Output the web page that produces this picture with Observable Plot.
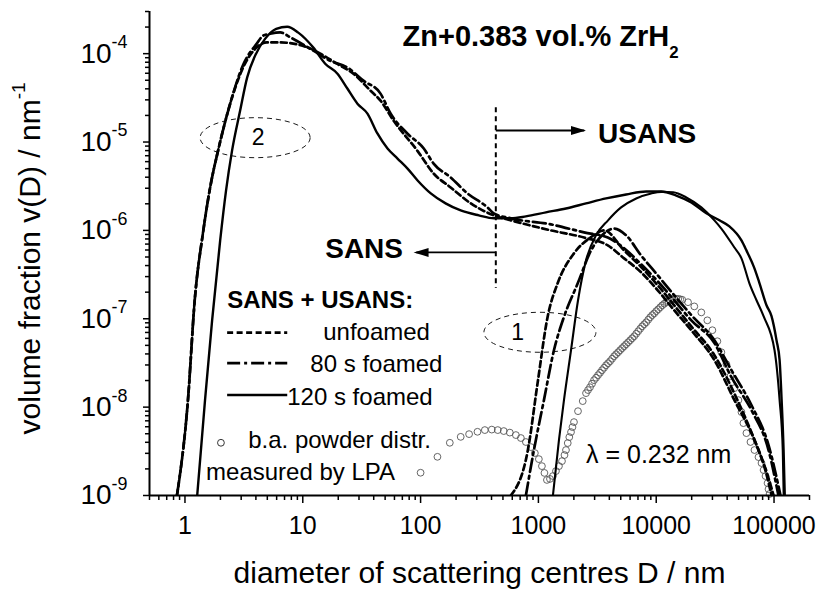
<!DOCTYPE html>
<html>
<head>
<meta charset="utf-8">
<script src="https://cdn.jsdelivr.net/npm/d3@7"></script>
<script src="https://cdn.jsdelivr.net/npm/@observablehq/plot@0.6"></script>
<style>
  html, body { margin: 0; padding: 0; background: #fff; }
  #chart { width: 825px; height: 591px; }
</style>
</head>
<body>
<div id="chart"></div>
<script>
// ---------------- axes ----------------
const xDomain = [0.5, 2e5];
const yDomain = [1e-9, 3e-4];
const xMajorTicks = [1, 10, 100, 1000, 10000, 100000];
const yMajorTicks = [1e-9, 1e-8, 1e-7, 1e-6, 1e-5, 1e-4];

// ---------------- unfoamed (dashed) ----------------
const unfoamedSansD = [0.855, 1.06, 1.21, 1.42, 1.66, 1.91, 2.42, 3.12, 4.07, 4.96, 6.44, 8.3, 10.9, 14.1, 19.5, 26.9, 37.5, 45.7, 58.9, 93.7, 129, 180, 267, 418, 583, 1277, 2440, 3880, 5340, 7450, 10300, 14200, 19850, 31180, 46100, 68200, 83000, 95300];
const unfoamedSansV = [1e-9, 1.2e-8, 1.62e-7, 9.25e-7, 3.4e-6, 8.0e-6, 2.72e-5, 7.0e-5, 1.18e-4, 1.34e-4, 1.34e-4, 1.3e-4, 1.18e-4, 1.0e-4, 7.7e-5, 5.94e-5, 3.82e-5, 2.94e-5, 1.75e-5, 8.0e-6, 4.4e-6, 3.06e-6, 2.02e-6, 1.48e-6, 1.3e-6, 1.0e-6, 8.3e-7, 6.77e-7, 4.83e-7, 3.35e-7, 2.1e-7, 1.25e-7, 7.4e-8, 3.4e-8, 1.2e-8, 4.24e-9, 2.1e-9, 1e-9];
const unfoamedUsansD = [583, 814, 984, 1197, 1456, 2004, 2800, 3610, 5340, 7450, 10300, 14200, 19850, 31180, 47950, 71000, 88100, 99100];
const unfoamedUsansV = [1e-9, 3.27e-9, 1.87e-8, 1.05e-7, 2.52e-7, 5.5e-7, 8.4e-7, 1.0e-6, 5.94e-7, 3.85e-7, 2.39e-7, 1.42e-7, 8.2e-8, 3.87e-8, 1.27e-8, 3.72e-9, 1.7e-9, 1e-9];

// ---------------- 80 s foamed (dash-dot) ----------------
const foamed80SansD = [0.855, 1.06, 1.21, 1.42, 1.66, 1.91, 2.42, 3.12, 4.07, 4.61, 5.29, 6.44, 7.83, 12.3, 17.1, 23.8, 32.7, 45.7, 55.6, 77.1, 106, 129, 180, 250, 370, 418, 583, 1277, 2440, 3880, 5340, 7450, 10300, 14200, 19850, 31180, 43500, 64400, 89800, 109000];
const foamed80SansV = [1e-9, 1.2e-8, 1.62e-7, 9.25e-7, 3.4e-6, 8.0e-6, 2.72e-5, 7.5e-5, 1.3e-4, 1.6e-4, 1.68e-4, 1.74e-4, 1.53e-4, 1.08e-4, 8.3e-5, 7.0e-5, 4.95e-5, 3.53e-5, 2.1e-5, 1.25e-5, 8.5e-6, 5.7e-6, 3.97e-6, 2.62e-6, 1.82e-6, 1.56e-6, 1.37e-6, 1.17e-6, 9.5e-7, 8.3e-7, 6.27e-7, 4.13e-7, 2.65e-7, 1.62e-7, 9.6e-8, 5.3e-8, 2.18e-8, 9.2e-9, 3.27e-9, 1e-9];
const foamed80UsansD = [783, 916, 1114, 1355, 1648, 2157, 2800, 3610, 4395, 5555, 7450, 10300, 14200, 19850, 31180, 43500, 64400, 89800, 113500];
const foamed80UsansV = [1e-9, 3.27e-9, 1.2e-8, 4.4e-8, 1.05e-7, 2.52e-7, 5.94e-7, 9.25e-7, 1.05e-6, 8.8e-7, 5.2e-7, 3.1e-7, 1.85e-7, 1.1e-7, 5.7e-8, 2.62e-8, 1.05e-8, 3.72e-9, 1e-9];

// ---------------- 120 s foamed (solid) ----------------
const foamed120SansD = [1.27, 1.48, 1.70, 1.99, 2.23, 2.51, 2.94, 3.37, 3.94, 4.80, 5.95, 7.38, 9.16, 12.3, 15.5, 19.7, 23.9, 29.1, 35.4, 43, 52.4, 63.7, 77.5, 94.3, 122, 163, 219, 312, 418, 583, 783, 1158, 1714, 2536, 3752, 5555, 8222, 11035, 14800, 19850, 26650, 34400, 41800, 52900, 58300, 68200, 75300, 86300, 95200, 105000, 111500, 116000, 120500, 123300];
const foamed120SansV = [1e-9, 1.2e-8, 9.6e-8, 7.7e-7, 2.8e-6, 8.0e-6, 2.27e-5, 5.36e-5, 9.5e-5, 1.48e-4, 1.91e-4, 2.02e-4, 1.73e-4, 1.17e-4, 7.7e-5, 5.94e-5, 4.03e-5, 2.72e-5, 2.1e-5, 1.25e-5, 8.45e-6, 6.5e-6, 5.0e-6, 3.67e-6, 2.62e-6, 2.02e-6, 1.68e-6, 1.48e-6, 1.37e-6, 1.37e-6, 1.44e-6, 1.6e-6, 1.77e-6, 2.02e-6, 2.3e-6, 2.55e-6, 2.76e-6, 2.76e-6, 2.48e-6, 2.07e-6, 1.56e-6, 1.3e-6, 1.11e-6, 7.7e-7, 5.94e-7, 3.72e-7, 2.52e-7, 1.42e-7, 1.07e-7, 5.7e-8, 3.4e-8, 1.2e-8, 3.27e-9, 1e-9];
const foamed120UsansD = [1328, 1494, 1648, 1891, 2169, 2536, 3085, 3900, 5035, 6761, 9060, 11035, 13960, 17990, 24150, 31180, 35700, 46100, 52900, 61800, 71000, 81500, 101000, 111500, 118600, 120800];
const foamed120UsansV = [1e-9, 4.24e-9, 1.2e-8, 4.4e-8, 1.62e-7, 4.58e-7, 8.8e-7, 1.3e-6, 1.82e-6, 2.3e-6, 2.62e-6, 2.73e-6, 2.7e-6, 2.36e-6, 1.82e-6, 1.3e-6, 1.05e-6, 6.4e-7, 4.83e-7, 2.52e-7, 1.62e-7, 1.07e-7, 4.4e-8, 1.2e-8, 3.27e-9, 1e-9];

// ---------------- b.a. powder distribution measured by LPA ----------------
const lpaD = [100, 139, 177, 219, 258, 304, 351, 402, 452, 508, 572, 644, 710, 783, 863, 933, 1009, 1071, 1125, 1181, 1253, 1328, 1409, 1494, 1585, 1665, 1714, 1774, 1829, 1891, 1946, 2004, 2168, 2378,
  2536, 2637, 2742, 2852, 2966, 3085, 3208, 3336, 3469, 3608, 3752, 3902, 4060, 4223, 4395, 4567, 4753, 4940, 5140, 5342, 5555, 5777, 6010, 6248, 6500, 6760, 7030, 7310, 7600, 7906, 8222, 8550, 8890, 9247, 9610, 10000, 10400, 10820, 11250, 11700, 12160, 12650, 13150, 13680, 14220, 14800, 15380, 16000, 16630,
  18620, 21050, 24150, 27170, 29970, 33050, 35730, 39430, 42650, 46110, 49860, 52900, 54950, 58290, 63100, 68200, 73800, 78300, 81500, 84700, 88100, 89800, 91600];
const lpaV = [1.81e-9, 2.74e-9, 3.95e-9, 4.61e-9, 4.95e-9, 5.26e-9, 5.5e-9, 5.57e-9, 5.5e-9, 5.36e-9, 5.15e-9, 4.83e-9, 4.47e-9, 4.03e-9, 3.53e-9, 3.02e-9, 2.58e-9, 2.15e-9, 1.8e-9, 1.5e-9, 1.54e-9, 1.66e-9, 1.89e-9, 2.15e-9, 2.45e-9, 2.87e-9, 3.27e-9, 3.92e-9, 4.58e-9, 5.22e-9, 5.94e-9, 6.77e-9, 9.0e-9, 1.17e-8,
  1.44e-8, 1.56e-8, 1.68e-8, 1.84e-8, 2.02e-8, 2.15e-8, 2.3e-8, 2.45e-8, 2.62e-8, 2.79e-8, 2.98e-8, 3.14e-8, 3.31e-8, 3.53e-8, 3.77e-8, 3.97e-8, 4.18e-8, 4.41e-8, 4.65e-8, 4.89e-8, 5.15e-8, 5.42e-8, 5.71e-8, 6.02e-8, 6.34e-8, 6.77e-8, 7.22e-8, 7.71e-8, 8.22e-8, 8.67e-8, 9.12e-8, 9.75e-8, 1.04e-7, 1.1e-7, 1.15e-7, 1.22e-7, 1.28e-7, 1.35e-7, 1.42e-7, 1.48e-7, 1.54e-7, 1.58e-7, 1.62e-7, 1.66e-7, 1.68e-7, 1.68e-7, 1.68e-7, 1.66e-7, 1.64e-7,
  1.54e-7, 1.38e-7, 1.18e-7, 9.6e-8, 7.42e-8, 5.57e-8, 4.18e-8, 3.06e-8, 2.24e-8, 1.64e-8, 1.2e-8, 8.79e-9, 6.59e-9, 5.08e-9, 4.03e-9, 3.27e-9, 2.72e-9, 2.33e-9, 1.94e-9, 1.66e-9, 1.38e-9, 1.18e-9, 1.04e-9];

// ---------------- labels ----------------
const titleText = "Zn+0.383 vol.% ZrH_{2}";
const xTitle = "diameter of scattering centres D / nm";
const yTitle = "volume fraction v(D) / nm^{-1}";
const legendHeader = "SANS + USANS:";
const seriesNames = ["unfoamed", "80 s foamed", "120 s foamed"];
const lpaLegend = ["b.a. powder distr.", "measured by LPA"];
const lambdaText = "\u03bb = 0.232 nm";
const splitD = 435; // SANS / USANS boundary

// ---------------- build tables ----------------
const zip = (D, V) => D.map((d, i) => ({D: d, v: V[i]}));
const lpa = zip(lpaD, lpaV);

const xMinorTicks = [];
for (let e = -1; e <= 5; e++) for (let m = 2; m <= 9; m++) {
  const t = e < 0 ? m / 10 ** (-e) : m * 10 ** e;
  if (t >= xDomain[0] && t <= xDomain[1]) xMinorTicks.push(t);
}
const yMinorTicks = [];
for (let e = 9; e >= 4; e--) for (let m = 2; m <= 9; m++) {
  const t = m / 10 ** e;
  if (t >= yDomain[0] && t <= yDomain[1]) yMinorTicks.push(t);
}

const DASH = "6,3.5";
const DASHDOT = "13,4,3,4";
const styles = [
  {dash: DASH, w: 2.7},
  {dash: DASHDOT, w: 2.7},
  {dash: null, w: 2.4}
];
const curves = [
  [zip(unfoamedSansD, unfoamedSansV), styles[0]],
  [zip(unfoamedUsansD, unfoamedUsansV), styles[0]],
  [zip(foamed80SansD, foamed80SansV), styles[1]],
  [zip(foamed80UsansD, foamed80UsansV), styles[1]],
  [zip(foamed120SansD, foamed120SansV), styles[2]],
  [zip(foamed120UsansD, foamed120UsansV), {dash: null, w: 2.1}]
];

const ellipse = (rx, ry) => ({draw(ctx) {
  const k = 0.5523;
  ctx.moveTo(rx, 0);
  ctx.bezierCurveTo(rx, k * ry, k * rx, ry, 0, ry);
  ctx.bezierCurveTo(-k * rx, ry, -rx, k * ry, -rx, 0);
  ctx.bezierCurveTo(-rx, -k * ry, -k * rx, -ry, 0, -ry);
  ctx.bezierCurveTo(k * rx, -ry, rx, -k * ry, rx, 0);
  ctx.closePath();
}});
const arrowHead = {draw(ctx) {
  ctx.moveTo(0, 0); ctx.lineTo(-15, -4.5); ctx.lineTo(-15, 4.5); ctx.closePath();
}};

const T = (s) => [s];
const txt = {text: d => d, fill: "black"};

const legendY = [6.98e-8, 3.14e-8, 1.37e-8];
const legendTextY = [5.71e-8, 2.48e-8, 1.05e-8];
const legendTextX = [14.9, 11.6, 7.38];

const marks = [
  // LPA circles
  Plot.dot(lpa, {x: "D", y: "v", r: 3.4, stroke: "#555", strokeWidth: 0.9, fill: "none"}),
  // curves
  ...curves.map(([data, s]) => Plot.line(data, {x: "D", y: "v", stroke: "black", strokeWidth: s.w,
      strokeDasharray: s.dash || undefined, curve: "monotone-x", clip: true})),
  // SANS/USANS split
  Plot.ruleX([splitD], {y1: 2.45e-5, y2: 2.2e-7, stroke: "black", strokeWidth: 2, strokeDasharray: "5,4"}),
  Plot.link(T(0), {x1: splitD, x2: 2450, y1: 1.35e-5, y2: 1.35e-5, stroke: "black", strokeWidth: 1.8}),
  Plot.dot(T(0), {x: 2536, y: 1.35e-5, symbol: arrowHead, fill: "black", stroke: "none"}),
  Plot.link(T(0), {x1: splitD, x2: 92, y1: 5.64e-7, y2: 5.64e-7, stroke: "black", strokeWidth: 1.8}),
  Plot.dot(T(0), {x: 87.2, y: 5.64e-7, symbol: arrowHead, rotate: 180, fill: "black", stroke: "none"}),
  Plot.text(T("USANS"), {...txt, x: 3208, y: 9.87e-6, textAnchor: "start", lineAnchor: "bottom", fontSize: 28, fontWeight: "bold"}),
  Plot.text(T("SANS"), {...txt, x: 15.5, y: 4.83e-7, textAnchor: "start", lineAnchor: "bottom", fontSize: 28, fontWeight: "bold"}),
  // ellipses
  Plot.dot(T(0), {x: 3.94, y: 1.12e-5, symbol: ellipse(55, 20), fill: "none", stroke: "black", strokeWidth: 0.9, strokeDasharray: "5,4"}),
  Plot.dot(T(0), {x: 1030, y: 7.03e-8, symbol: ellipse(56, 20), fill: "none", stroke: "black", strokeWidth: 0.9, strokeDasharray: "5,4"}),
  Plot.text(T("2"), {...txt, x: 4.18, y: 1.12e-5, fontSize: 23}),
  Plot.text(T("1"), {...txt, x: 665, y: 7.03e-8, fontSize: 23}),
  // title
  Plot.text(T(titleText), {...txt, x: 70.3, y: 1.23e-4, textAnchor: "start", lineAnchor: "bottom", fontSize: 29, fontWeight: "bold"}),
  // legend
  Plot.text(T(legendHeader), {...txt, x: 2.28, y: 1.31e-7, textAnchor: "start", lineAnchor: "bottom", fontSize: 24, fontWeight: "bold"}),
  ...styles.map((s, i) => Plot.link(T(0), {x1: 2.28, x2: 7.38, y1: legendY[i], y2: legendY[i], stroke: "black",
      strokeWidth: s.w, strokeDasharray: s.dash || undefined})),
  ...seriesNames.map((n, i) => Plot.text(T(n), {...txt, x: legendTextX[i], y: legendTextY[i], textAnchor: "start", lineAnchor: "bottom", fontSize: 24})),
  Plot.dot(T(0), {x: 2.02, y: 3.95e-9, r: 3.4, stroke: "#333", strokeWidth: 1, fill: "none"}),
  Plot.text(T(lpaLegend[0]), {...txt, x: 3.44, y: 3.44e-9, textAnchor: "start", lineAnchor: "bottom", fontSize: 24}),
  Plot.text(T(lpaLegend[1]), {...txt, x: 1.51, y: 1.5e-9, textAnchor: "start", lineAnchor: "bottom", fontSize: 24}),
  Plot.text(T(lambdaText), {...txt, x: 2536, y: 2.33e-9, textAnchor: "start", lineAnchor: "bottom", fontSize: 25}),
  // axes
  Plot.axisX(xMinorTicks, {tickSize: 5, fill: "none", label: null, strokeWidth: 1.5}),
  Plot.axisX(xMajorTicks, {tickSize: 8, tickPadding: 13, fontSize: 25, label: null, strokeWidth: 1.5, tickFormat: d3.format("d")}),
  Plot.axisY(yMinorTicks, {tickSize: 4, fill: "none", label: null, strokeWidth: 1.5}),
  Plot.axisY(yMajorTicks, {tickSize: 6, tickPadding: 16, fontSize: 28, label: null, strokeWidth: 1.5,
      tickFormat: d => `10^{${Math.round(Math.log10(d))}}`}),
  Plot.ruleX([xDomain[0]], {stroke: "black", strokeWidth: 2}),
  Plot.ruleY([yDomain[0]], {stroke: "black", strokeWidth: 2}),
  Plot.text(T(xTitle), {...txt, frameAnchor: "bottom", dy: 87, lineAnchor: "bottom", fontSize: 30}),
  Plot.text(T(yTitle), {...txt, frameAnchor: "left", y: 4.83e-7, dx: -119, rotate: -90, textAnchor: "middle", fontSize: 30})
];

const svg = Plot.plot({
  width: 825, height: 591,
  marginLeft: 149, marginRight: 16, marginTop: 11, marginBottom: 96,
  x: {type: "log", domain: xDomain, axis: null},
  y: {type: "log", domain: yDomain, axis: null},
  style: {fontFamily: "'Liberation Sans', Arial, sans-serif", background: "white", color: "black", overflow: "visible"},
  marks
});
document.getElementById("chart").appendChild(svg);

// superscripts / subscripts as real tspans
svg.querySelectorAll("text").forEach(t => {
  const s = t.textContent;
  if (!/[\^_]\{/.test(s)) return;
  const fs = parseFloat(getComputedStyle(t).fontSize) || 20;
  while (t.firstChild) t.removeChild(t.firstChild);
  const re = /([\^_])\{([^}]*)\}/g;
  let last = 0, m, cur = 0;
  const add = (str, off, size) => {
    if (!str) return;
    const sp = document.createElementNS("http://www.w3.org/2000/svg", "tspan");
    sp.textContent = str;
    const dy = off - cur;
    if (dy) sp.setAttribute("dy", dy);
    if (size) sp.setAttribute("font-size", size);
    cur = off;
    t.appendChild(sp);
  };
  while ((m = re.exec(s))) {
    add(s.slice(last, m.index), 0);
    if (m[1] === "^") add(m[2], -0.52 * fs, 0.64 * fs);
    else add(m[2], 0.42 * fs, 0.58 * fs);
    last = re.lastIndex;
  }
  add(s.slice(last), 0);
});
</script>
</body>
</html>
